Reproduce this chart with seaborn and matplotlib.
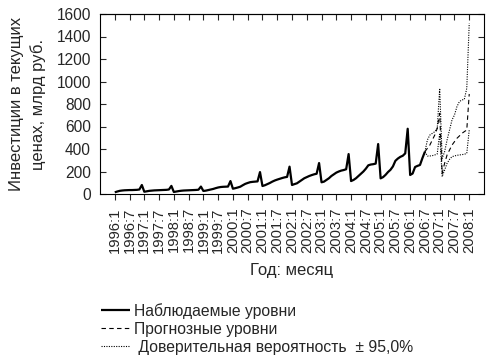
import matplotlib
matplotlib.use("Agg")
import matplotlib.pyplot as plt
import seaborn as sns
import numpy as np
import pandas as pd

# ---------------- data ----------------
# observed monthly values, 1996:1 .. 2006:7 (index 0 = 1996:1)
obs_1996 = [15, 22, 28, 31, 33, 34, 35, 35, 36, 37, 40, 80]
obs_1997 = [20, 24, 28, 30, 32, 33, 34, 35, 36, 37, 40, 72]
obs_1998 = [18, 22, 26, 29, 31, 32, 33, 34, 35, 36, 38, 66]
obs_1999 = [27, 30, 35, 40, 45, 52, 58, 62, 64, 65, 66, 115]
obs_2000 = [47, 52, 58, 65, 78, 90, 98, 105, 108, 110, 112, 195]
obs_2001 = [71, 78, 88, 98, 110, 120, 128, 135, 142, 148, 152, 243]
obs_2002 = [80, 88, 95, 110, 125, 140, 150, 160, 168, 175, 180, 275]
obs_2003 = [104, 110, 125, 140, 160, 175, 190, 200, 208, 213, 220, 355]
obs_2004 = [115, 125, 140, 160, 180, 200, 225, 255, 262, 265, 270, 444]
obs_2005 = [139, 150, 170, 195, 215, 245, 295, 315, 330, 340, 361, 580]
obs_2006 = [169, 182, 240, 250, 258, 320, 376]

# forecast 2006:7 .. 2008:1 (index 126 .. 144)
forecast = [376, 406, 435, 480, 524, 584, 717, 184, 273, 347, 391, 435,
            465, 495, 516, 539, 554, 569, 889]
upper = [376, 480, 524, 539, 554, 584, 939, 317, 376, 480, 569, 658,
         702, 776, 821, 836, 841, 939, 1517]
lower = [376, 338, 338, 341, 347, 356, 540, 154, 213, 273, 308, 332,
         338, 344, 347, 350, 353, 361, 569]

tick_labels = ["1996:1", "1996:7", "1997:1", "1997:7", "1998:1", "1998:7",
               "1999:1", "1999:7", "2000:1", "2000:7", "2001:1", "2001:7",
               "2002:1", "2002:7", "2003:1", "2003:7", "2004:1", "2004:7",
               "2005:1", "2005:7", "2006:1", "2006:7", "2007:1", "2007:7",
               "2008:1"]

observed = (obs_1996 + obs_1997 + obs_1998 + obs_1999 + obs_2000 + obs_2001 +
            obs_2002 + obs_2003 + obs_2004 + obs_2005 + obs_2006)
obs_df = pd.DataFrame({"t": np.arange(len(observed)), "v": observed})
fc_start = len(observed) - 1
fc_df = pd.DataFrame({"t": np.arange(fc_start, fc_start + len(forecast)),
                      "f": forecast, "u": upper, "l": lower})

# ---------------- style ----------------
sns.set_style("white")
plt.rcParams["font.family"] = ["Liberation Sans", "DejaVu Sans"]
plt.rcParams["lines.solid_capstyle"] = "butt"

fig = plt.figure(figsize=(4.98, 3.62), dpi=100)
W, H = 498, 362
ax = fig.add_axes([100 / W, 1 - 194 / H, 384 / W, 180 / H])

sns.lineplot(data=obs_df, x="t", y="v", ax=ax, color="black", linewidth=1.6,
             label="Наблюдаемые уровни")
sns.lineplot(data=fc_df, x="t", y="f", ax=ax, color="black", linewidth=0.8,
             linestyle=(0, (4, 3)), label="Прогнозные уровни")
sns.lineplot(data=fc_df, x="t", y="u", ax=ax, color="black", linewidth=0.8,
             linestyle=(0, (1, 1.2)),
             label=" Доверительная вероятность  ± 95,0%")
sns.lineplot(data=fc_df, x="t", y="l", ax=ax, color="black", linewidth=0.8,
             linestyle=(0, (1, 1.2)), label="_nolegend_")

ax.set_xlim(-6, 150)
ax.set_ylim(0, 1600)
ticks = np.arange(0, 145, 6)
ax.set_xticks(ticks)
ax.set_xticklabels(tick_labels, rotation=90, fontsize=10.6)
ax.set_yticks(np.arange(0, 1601, 200))
ax.tick_params(axis="y", labelsize=11.2, direction="in", left=True, right=True,
               length=4, width=0.8, pad=6.5)
ax.tick_params(axis="x", direction="out", bottom=True, top=False, length=4,
               width=0.8, pad=5.5)
sec = ax.secondary_xaxis("top")
sec.set_xticks(ticks)
sec.tick_params(axis="x", direction="in", length=4, width=0.8, labeltop=False)
for s in sec.spines.values():
    s.set_linewidth(0.8)

for s in ax.spines.values():
    s.set_visible(True)
    s.set_color("black")
    s.set_linewidth(0.8)

ax.set_xlabel("Год: месяц", fontsize=12)
ax.xaxis.set_label_coords(0.5, -0.383)
ax.set_ylabel("Инвестиции в текущих\nценах, млрд руб.", fontsize=12,
              linespacing=1.45)
ax.yaxis.set_label_coords(-0.141, 0.5)

handles, labels = ax.get_legend_handles_labels()
ax.legend_.remove()
fig.legend(handles, labels, loc="upper left",
           bbox_to_anchor=(95 / W, 1 - 296.5 / H), frameon=False,
           fontsize=11.3, handlelength=1.8, handletextpad=0.3,
           labelspacing=0.2, borderaxespad=0)

fig.savefig("out.png", dpi=100)
